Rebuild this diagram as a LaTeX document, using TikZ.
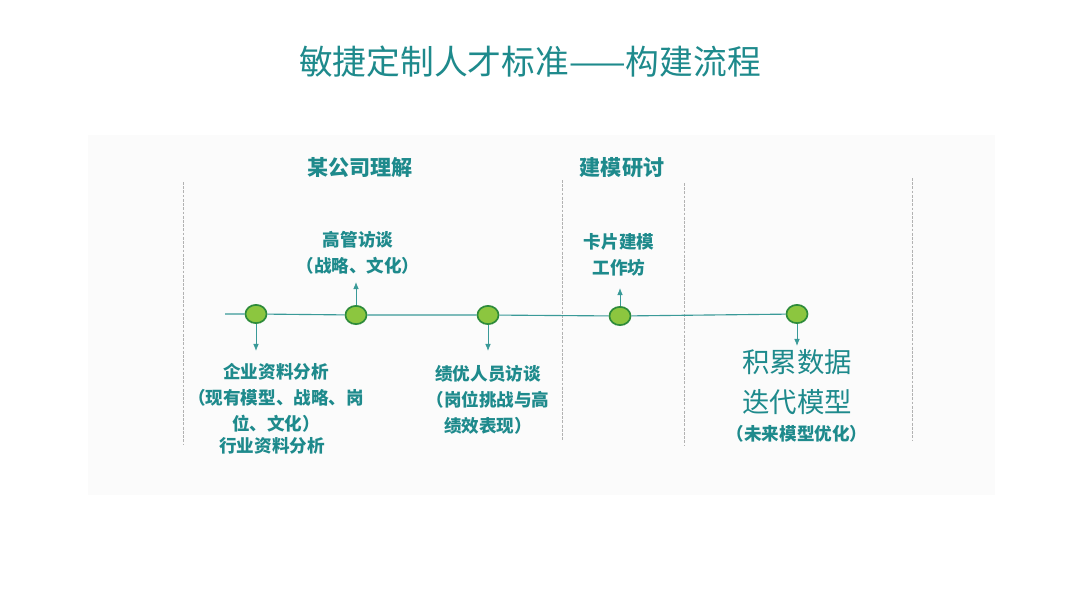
\documentclass[tikz,border=0pt]{standalone}
\usepackage{fontspec}
\usepackage{tikz}
\usetikzlibrary{positioning, calc, shapes.geometric, arrows.meta}
\newfontfamily\cjk{Noto Sans CJK SC}
\definecolor{tealtext}{HTML}{1E8A8C}
\definecolor{tealline}{HTML}{3A9A98}
\definecolor{dotfill}{HTML}{8CC63F}
\definecolor{dotedge}{HTML}{2E8B3A}
\tikzstyle{Arrow} = [
%small arrow from a dot:
tealline, semithick,
-{Latex[length=5pt, width=4pt]}
]

\begin{document}
\begin{tikzpicture}[x=0.025cm, y=-0.025cm,
				dot/.style = {ellipse, draw = dotedge, line width = 1.2pt, fill = dotfill, minimum width = 15pt, minimum height = 13pt, inner sep = 0pt},
				label/.style = {text = tealtext, align = center, inner sep = 0pt, font = \cjk\bfseries\fontsize{12.5}{18.5}\selectfont},
				phase/.style = {text = tealtext, inner sep = 0pt, font = \cjk\bfseries\fontsize{15}{18}\selectfont},
				big/.style = {text = tealtext, align = center, inner sep = 0pt, font = \cjk\fontsize{19.5}{29}\selectfont},
				divider/.style = {gray!60, dashed, dash pattern = on 2pt off 1pt, line width = 0.6pt},
			]
			\useasboundingbox (0,0) rectangle (1080,608);
			\fill[white] (0,0) rectangle (1080,608);
			\fill[gray!3] (88,135) rectangle (995,495);

			% title
			\node[text = tealtext, font = \cjk\fontsize{24}{28}\selectfont](title) at (530,62){敏捷定制人才标准——构建流程};

			% phase headers
			\node[phase](P1) at (360,168){某公司理解};
			\node[phase](P2) at (622,168){建模研讨};

			% dividers
			\draw[divider] (183,182) -- (183,445);
			\draw[divider] (562,180) -- (562,440);
			\draw[divider] (684,183) -- (684,445);
			\draw[divider] (912,178) -- (912,440);

			% timeline
			\coordinate(start) at (225,314);
			\node[dot](D1) at (256,314){};
			\node[dot](D2) at (356,315){};
			\node[dot](D3) at (488,315){};
			\node[dot](D4) at (620,316){};
			\node[dot](D5) at (797,314){};
			\draw[tealline, line width = 0.8pt](start)--(D1)--(D2)--(D3)--(D4)--(D5);

			% arrows
			\coordinate(A1) at (256,351);
			\coordinate(A2) at (356,282);
			\coordinate(A3) at (488,351);
			\coordinate(A4) at (620,288);
			\coordinate(A5) at (797,346);
			\draw[Arrow](D1)--(A1);
			\draw[Arrow](D2)--(A2);
			\draw[Arrow](D3)--(A3);
			\draw[Arrow](D4)--(A4);
			\draw[Arrow](D5)--(A5);

			% labels
			\node[label](L2) at (358,253){高管访谈\\（战略、文化）};
			\node[label](L4) at (619,255){卡片建模\\工作坊};
			\node[label](L1) at (276,398){企业资料分析\\（现有模型、战略、岗\\位、文化）};
			\node[label](L1b) at (272,446){行业资料分析};
			\node[label](L3) at (488,400){绩优人员访谈\\（岗位挑战与高\\绩效表现）};
			\node[big](L5) at (797,382){积累数据\\迭代模型};
			\node[label](L5b) at (797,434){（未来模型优化）};

		\end{tikzpicture}
\end{document}
